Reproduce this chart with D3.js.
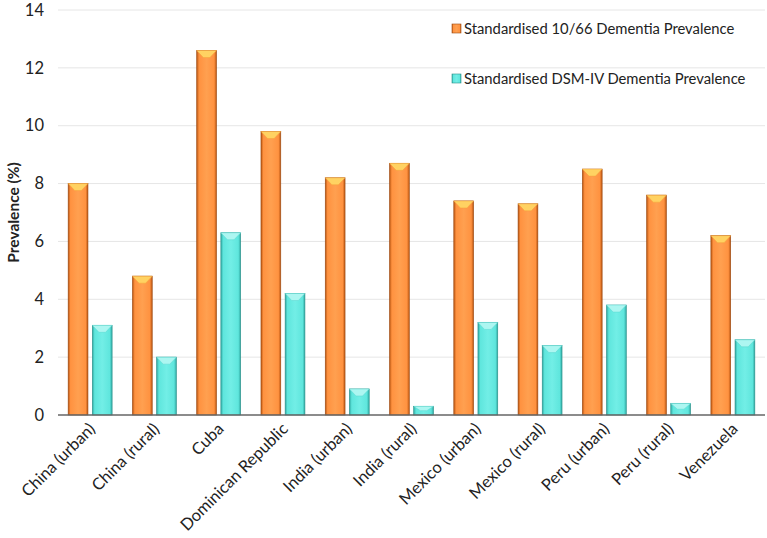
<!DOCTYPE html>
<html><head><meta charset="utf-8">
<script src="https://cdn.jsdelivr.net/npm/d3@7"></script>
<style>body{margin:0;background:#fff}svg{display:block}text{font-family:Lato,"Open Sans",sans-serif}</style>
</head><body><svg id="c" width="767" height="538"></svg>
<script>
const categories = ["China (urban)","China (rural)","Cuba","Dominican Republic","India (urban)","India (rural)","Mexico (urban)","Mexico (rural)","Peru (urban)","Peru (rural)","Venezuela"];
const series = ["Standardised 10/66 Dementia Prevalence","Standardised DSM-IV Dementia Prevalence"];
const prev1066 = [8.0,4.8,12.6,9.8,8.2,8.7,7.4,7.3,8.5,7.6,6.2];
const prevDSM = [3.1,2.0,6.3,4.2,0.9,0.3,3.2,2.4,3.8,0.4,2.6];
const yTicks = [0,2,4,6,8,10,12,14];

const svg = d3.select("#c");
const L=58,R=765,T=10,B=415;
const x0 = d3.scaleBand().domain(categories).range([L,R]).paddingInner(0.316).paddingOuter(0.158);
const x1 = d3.scaleBand().domain(series).range([0,x0.bandwidth()]).paddingInner(0.18);
const y = d3.scaleLinear().domain([0,14]).range([B,T]);

const defs = svg.append("defs");
const pal = [
  {id:"g0", edge:"#b85410", mid:"#ff9240", light:"#ffa050", top:"#ffd262", topEdge:"#f5a23a", stroke:"#9c4a12"},
  {id:"g1", edge:"#2fa9a2", mid:"#5fe6dd", light:"#72eee6", top:"#adf6f1", topEdge:"#5ad8d0", stroke:"#2a8f89"}
];
pal.forEach(p=>{
  const g=defs.append("linearGradient").attr("id",p.id).attr("x1","0").attr("x2","1").attr("y1","0").attr("y2","0");
  g.append("stop").attr("offset","0").attr("stop-color",p.edge);
  g.append("stop").attr("offset","0.12").attr("stop-color",p.mid);
  g.append("stop").attr("offset","0.5").attr("stop-color",p.light);
  g.append("stop").attr("offset","0.88").attr("stop-color",p.mid);
  g.append("stop").attr("offset","1").attr("stop-color",p.edge);
});

// gridlines
svg.append("g").selectAll("line").data(yTicks.filter(d=>d>0)).join("line")
  .attr("x1",L).attr("x2",R).attr("y1",d=>y(d)).attr("y2",d=>y(d))
  .attr("stroke","#e6e6e6").attr("stroke-width",1);

// y axis
const yAxis = d3.axisLeft(y).tickValues(yTicks).tickSize(0).tickPadding(14);
const ya = svg.append("g").attr("transform",`translate(${L},0)`).call(yAxis);
ya.select(".domain").remove();
ya.selectAll("text").attr("font-size",16.5).attr("fill","#222").attr("font-family","Lato,sans-serif");

svg.append("text").attr("transform",`translate(19,${(T+B)/2}) rotate(-90)`)
  .attr("text-anchor","middle").attr("font-size",15.5).attr("font-weight","bold").attr("fill","#222")
  .text("Prevalence (%)");

// bars
const data = categories.map((c,i)=>({c, vals:[prev1066[i],prevDSM[i]]}));
const grp = svg.append("g").selectAll("g").data(data).join("g").attr("transform",d=>`translate(${x0(d.c)},0)`);
grp.each(function(d){
  const g=d3.select(this);
  d.vals.forEach((v,k)=>{
    const p=pal[k];
    const bx=x1(series[k]), bw=x1.bandwidth(), by=y(v), bh=y(0)-y(v);
    g.append("rect").attr("x",bx).attr("y",by).attr("width",bw).attr("height",bh)
      .attr("fill",`url(#${p.id})`).attr("stroke",p.stroke).attr("stroke-width",0.6);
    const bev=Math.min(7,bh/2), inset=Math.min(7,bw/3);
    g.append("polygon").attr("points",[[bx,by],[bx+bw,by],[bx+bw-inset,by+bev],[bx+inset,by+bev]].map(q=>q.join(",")).join(" "))
      .attr("fill",p.top).attr("stroke",p.topEdge).attr("stroke-width",0.5);
  });
});

// x axis line
svg.append("line").attr("x1",L).attr("x2",R).attr("y1",B).attr("y2",B).attr("stroke","#666").attr("stroke-width",1.5);

// x labels
const xAxis = d3.axisBottom(x0).tickSize(0).tickPadding(0);
const xa = svg.append("g").attr("transform",`translate(0,${B})`).call(xAxis);
xa.select(".domain").remove();
xa.selectAll("text").attr("font-size",16.5).attr("fill","#222").attr("font-family","Lato,sans-serif")
  .attr("text-anchor","end").attr("dy","0").attr("y",0)
  .attr("transform","translate(6,15) rotate(-45)");

// legend
const lg = svg.append("g").selectAll("g").data(series).join("g").attr("transform",(d,i)=>`translate(452,${29+i*50})`);
lg.append("rect").attr("x",0).attr("y",-5).attr("width",9).attr("height",9)
  .attr("fill",(d,i)=>`url(#${pal[i].id})`).attr("stroke",(d,i)=>pal[i].stroke).attr("stroke-width",0.6);
lg.append("text").attr("x",12).attr("y",5).attr("font-size",14.8).attr("fill","#222").text(d=>d);
</script></body></html>
